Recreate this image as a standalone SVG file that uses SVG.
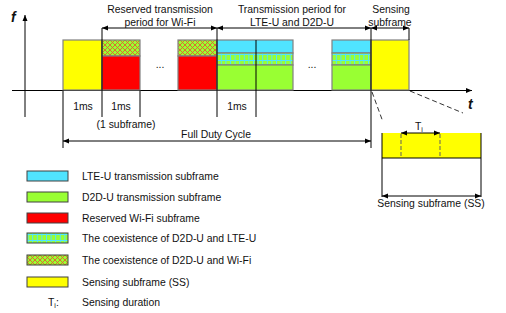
<svg xmlns="http://www.w3.org/2000/svg" width="506" height="313" viewBox="0 0 506 313">
<style>
text{font-family:"Liberation Sans",Arial,sans-serif;font-size:10.4px;fill:#111}
.c{text-anchor:middle}
.ax{font-family:"Liberation Sans",Arial,sans-serif;font-weight:bold;font-style:italic;font-size:14px}
.blk{stroke:#808080;stroke-width:1.2}
.ln{stroke:#000;stroke-width:1;fill:none}
.leg{stroke:#404040;stroke-width:1}
.y{fill:#ffff00}.cy{fill:#50e4ff}.g{fill:#99ff33}.r{fill:#ff0000}
</style>
<defs>
<pattern id="cross" width="5" height="5" patternUnits="userSpaceOnUse">
<rect width="5" height="5" fill="#99ff33"/>
<path d="M0,0L5,5M5,0L0,5" stroke="#e06030" stroke-width="0.9"/>
</pattern>
<pattern id="grid" width="4.6" height="6" patternUnits="userSpaceOnUse">
<rect width="4.6" height="6" fill="#99ff33"/>
<path d="M0.5,0V6M0,0.5H4.6" stroke="#50e4ff" stroke-width="1"/>
</pattern>
<marker id="ah" viewBox="0 0 6 6" refX="6" refY="3" markerWidth="6" markerHeight="6" markerUnits="userSpaceOnUse" orient="auto-start-reverse">
<path d="M0,0.5L6,3L0,5.5z" fill="#000"/>
</marker>
</defs>

<g id="axes">
<line class="ln" x1="25" y1="117" x2="25" y2="15" marker-end="url(#ah)"/>
<line class="ln" x1="12" y1="90.5" x2="472" y2="90.5" marker-end="url(#ah)"/>
<text class="ax" x="11" y="22">f</text>
<text class="ax" x="468" y="109">t</text>
</g>

<g id="sensing-start">
<rect class="blk y" x="63" y="40" width="39" height="50"/>
</g>
<g id="wifi-1">
<rect class="blk" x="102" y="40" width="38" height="16" fill="url(#cross)"/>
<rect class="blk r" x="102" y="56" width="38" height="34"/>
</g>
<text id="dots-1" class="c" x="160" y="68">...</text>
<g id="wifi-2">
<rect class="blk" x="178" y="40" width="39" height="16" fill="url(#cross)"/>
<rect class="blk r" x="178" y="56" width="39" height="34"/>
</g>
<g id="lte-1">
<rect class="blk cy" x="217" y="40" width="76" height="13"/>
<rect class="blk" x="217" y="53" width="76" height="12" fill="url(#grid)"/>
<rect class="blk g" x="217" y="65" width="76" height="25"/>
</g>
<text id="dots-2" class="c" x="312" y="68">...</text>
<g id="lte-2">
<rect class="blk cy" x="332" y="40" width="39" height="13"/>
<rect class="blk" x="332" y="53" width="39" height="12" fill="url(#grid)"/>
<rect class="blk g" x="332" y="65" width="39" height="25"/>
</g>
<g id="sensing-end">
<rect class="blk y" x="371" y="40" width="38" height="50"/>
</g>

<g id="labels">
<text class="c" x="160" y="13">Reserved transmission</text>
<text class="c" x="160" y="25.5">period for Wi-Fi</text>
<text class="c" x="292" y="13">Transmission period for</text>
<text class="c" x="292" y="25.5">LTE-U and D2D-U</text>
<text class="c" x="391" y="13">Sensing</text>
<text class="c" x="390" y="25.5">subframe</text>
<text class="c" x="83" y="110">1ms</text>
<text class="c" x="121" y="110">1ms</text>
<text class="c" x="237" y="110">1ms</text>
<text class="c" x="126" y="128">(1 subframe)</text>
<text class="c" x="216" y="138">Full Duty Cycle</text>
</g>

<g id="sensing-detail">
<rect class="y" x="382" y="133" width="99" height="25"/>
<line x1="401" y1="134" x2="401" y2="158" stroke="#7a7a50" stroke-width="1.2" stroke-dasharray="4,2"/>
<line x1="440" y1="134" x2="440" y2="158" stroke="#7a7a50" stroke-width="1.2" stroke-dasharray="4,2"/>
<path class="ln" d="M382,133V197M481,133V197M382,158H481"/>
<text x="415" y="130">T<tspan font-size="7" dy="2">i</tspan></text>
<text class="c" x="431" y="207">Sensing subframe (SS)</text>
</g>

<g id="connectors">
<path class="ln" d="M63,90.5V148M102,28V117M140,90.5V117M217,28V117M256,40V117M371,28V148M409,28V40"/>
<line class="ln" x1="102" y1="28" x2="217" y2="28" marker-start="url(#ah)" marker-end="url(#ah)"/>
<line class="ln" x1="217" y1="28" x2="371" y2="28" marker-start="url(#ah)" marker-end="url(#ah)"/>
<line class="ln" x1="371" y1="28" x2="409" y2="28" marker-start="url(#ah)" marker-end="url(#ah)"/>
<line class="ln" x1="63" y1="141" x2="371" y2="141" marker-start="url(#ah)" marker-end="url(#ah)"/>
<line class="ln" x1="401" y1="133" x2="440" y2="133" marker-start="url(#ah)" marker-end="url(#ah)"/>
<line class="ln" x1="382" y1="196" x2="481" y2="196" marker-start="url(#ah)" marker-end="url(#ah)"/>
<line x1="372" y1="92" x2="383" y2="122" stroke="#000" stroke-width="0.8" stroke-dasharray="5,3"/>
<line x1="410" y1="91" x2="463" y2="113" stroke="#000" stroke-width="0.8" stroke-dasharray="5,3"/>
</g>

<g id="legend">
<rect class="leg cy" x="27" y="171" width="41" height="10"/>
<text x="82" y="180">LTE-U transmission subframe</text>
<rect class="leg g" x="27" y="192" width="41" height="10"/>
<text x="82" y="201">D2D-U transmission subframe</text>
<rect class="leg r" x="27" y="213" width="41" height="10"/>
<text x="82" y="222">Reserved Wi-Fi subframe</text>
<rect class="leg" x="27" y="233" width="41" height="10" fill="url(#grid)"/>
<text x="82" y="242">The coexistence of D2D-U and LTE-U</text>
<rect class="leg" x="27" y="255" width="41" height="10" fill="url(#cross)"/>
<text x="82" y="264">The coexistence of D2D-U and Wi-Fi</text>
<rect class="leg y" x="27" y="277" width="41" height="10"/>
<text x="82" y="286">Sensing subframe (SS)</text>
<text x="48" y="306">T<tspan font-size="7" dy="2">i</tspan><tspan dy="-2">:</tspan></text>
<text x="82" y="306">Sensing duration</text>
</g>
</svg>
